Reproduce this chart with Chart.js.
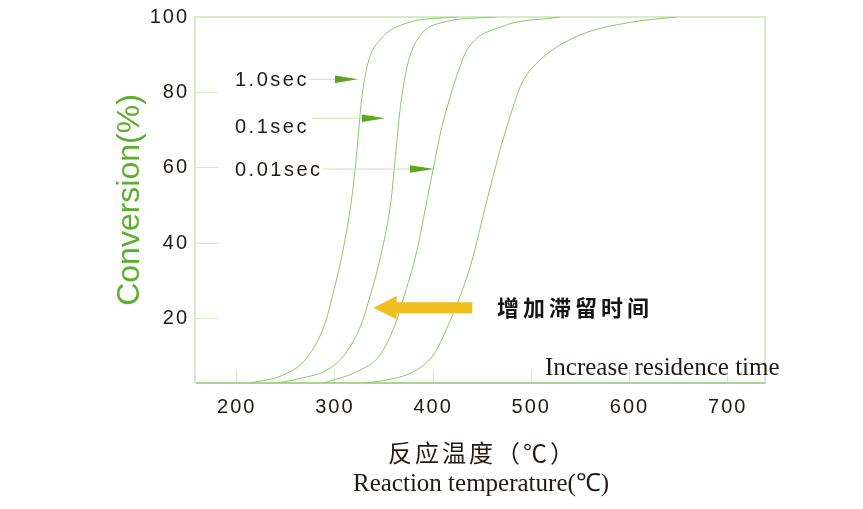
<!DOCTYPE html>
<html>
<head>
<meta charset="utf-8">
<script src="https://cdn.jsdelivr.net/npm/chart.js@4/dist/chart.umd.min.js"></script>
<style>
html,body{margin:0;padding:0;background:#fff;}
#wrap{width:863px;height:509px;}
</style>
</head>
<body>
<div id="wrap"><canvas id="c" width="863" height="509"></canvas></div>
<script>
// ---- data ----
const xTicks = [200, 300, 400, 500, 600, 700];
const yTicks = [20, 40, 60, 80, 100];
const seriesNames = ['1.0sec', '0.1sec', '0.01sec', 'longer'];
const labelTexts = ['1.0sec', '0.1sec', '0.01sec'];

const temp1 = [213.5, 247.1, 271.3, 289.4, 296.5, 308.2, 316.9, 322.5, 327.1, 333.7, 345.9, 373.4, 424.3];
const conv1 = [3.0, 5.1, 9.6, 18.4, 25.0, 38.2, 51.5, 64.7, 78.0, 87.8, 93.9, 98.4, 100];

const temp2 = [240.7, 264.5, 295.0, 312.0, 326.6, 334.7, 348.0, 357.2, 362.2, 366.3, 373.4, 383.6, 407.0, 465.1];
const conv2 = [3.0, 4.2, 6.9, 11.3, 18.4, 25.0, 38.2, 51.5, 64.7, 75.4, 86.7, 93.9, 98.4, 100];

const temp3 = [288.2, 322.2, 345.9, 361.2, 369.3, 383.6, 393.8, 400.9, 408.1, 415.2, 423.3, 434.6, 468.1, 529.2];
const conv3 = [3.0, 6.0, 10.4, 18.4, 25.0, 38.2, 51.5, 60.8, 70.0, 76.9, 83.8, 91.3, 97.3, 100];

const temp4 = [328.9, 352.7, 379.8, 400.2, 415.5, 437.6, 454.9, 468.1, 481.4, 490.5, 508.9, 549.6, 603.6, 648.4];
const conv4 = [3.0, 3.8, 6.0, 10.4, 18.4, 33.7, 51.5, 64.7, 76.1, 82.5, 88.6, 95.2, 98.7, 100];

const xMin = 157.5, xMax = 738, yMin = 3, yMax = 100;

const temps = [temp1, temp2, temp3, temp4];
const convs = [conv1, conv2, conv3, conv4];

const datasets = temps.map((t, i) => ({
  label: seriesNames[i],
  data: t.map((x, j) => ({x: x, y: convs[i][j]})),
  showLine: true,
  borderColor: '#8cc96b',
  borderWidth: 1,
  pointRadius: 0,
  pointHoverRadius: 0,
  cubicInterpolationMode: 'monotone',
  fill: false
}));

const TEXT = '#231815';
const PALE = '#d6ebc7';

const decor = {
  id: 'decor',
  beforeDraw(chart) {
    const ctx = chart.ctx;
    ctx.letterSpacing = '0px';
    ctx.save();
    ctx.fillStyle = '#ffffff';
    ctx.fillRect(0, 0, chart.width, chart.height);
    ctx.restore();
  },
  beforeDatasetsDraw(chart) {
    const {ctx, chartArea: a} = chart;
    ctx.save();
    ctx.strokeStyle = PALE;
    ctx.lineWidth = 2;
    ctx.beginPath();
    ctx.moveTo(a.left, a.top);
    ctx.lineTo(a.right, a.top);
    ctx.lineTo(a.right, a.bottom);
    ctx.stroke();
    ctx.restore();
  },
  afterDatasetsDraw(chart) {
    const ctx = chart.ctx;
    ctx.save();
    // residence-time labels with pointer arrows
    const labelY = [80.5, 127.2, 170.2];
    const arrows = [
      {x0: 308, xb: 335, xt: 358, y: 79.3},
      {x0: 312, xb: 362, xt: 385, y: 118.3},
      {x0: 323, xb: 410, xt: 434, y: 169}
    ];
    ctx.font = '20px "Liberation Sans"';
    ctx.letterSpacing = '2.5px';
    ctx.fillStyle = TEXT;
    ctx.textBaseline = 'middle';
    ctx.textAlign = 'left';
    labelTexts.forEach((t, i) => ctx.fillText(t, 235, labelY[i]));
    ctx.letterSpacing = '0px';
    arrows.forEach(a => {
      ctx.strokeStyle = '#c5e2b0';
      ctx.lineWidth = 1;
      ctx.beginPath();
      ctx.moveTo(a.x0, a.y);
      ctx.lineTo(a.xb, a.y);
      ctx.stroke();
      ctx.fillStyle = '#5ba51f';
      ctx.beginPath();
      ctx.moveTo(a.xb, a.y - 3.8);
      ctx.lineTo(a.xt, a.y);
      ctx.lineTo(a.xb, a.y + 3.8);
      ctx.closePath();
      ctx.fill();
    });
    // big yellow arrow
    ctx.fillStyle = '#f0bf1f';
    ctx.beginPath();
    ctx.moveTo(373.3, 307.7);
    ctx.lineTo(396.7, 296);
    ctx.lineTo(396.7, 302.3);
    ctx.lineTo(472.3, 302.3);
    ctx.lineTo(472.3, 313.3);
    ctx.lineTo(396.7, 313.3);
    ctx.lineTo(396.7, 319.3);
    ctx.closePath();
    ctx.fill();
    // Chinese annotation
    ctx.font = 'bold 22px "Noto Sans CJK SC"';
    ctx.letterSpacing = '4px';
    ctx.fillStyle = '#151515';
    ctx.textBaseline = 'middle';
    ctx.fillText('增加滞留时间', 497, 308);
    ctx.letterSpacing = '0px';
    // English annotation
    ctx.font = '25px "Liberation Serif"';
    ctx.fillStyle = TEXT;
    ctx.textBaseline = 'alphabetic';
    ctx.fillText('Increase residence time', 545, 375);
    ctx.restore();
    // tick labels (drawn next, at z=1) get the wide spacing of the original
    ctx.letterSpacing = '2px';
  },
  afterDraw(chart) {
    const ctx = chart.ctx;
    ctx.letterSpacing = '0px';
    ctx.save();
    ctx.fillStyle = TEXT;
    ctx.textAlign = 'left';
    ctx.font = '24px "Noto Sans CJK SC"';
    ctx.letterSpacing = '3px';
    ctx.textBaseline = 'middle';
    ctx.fillText('反应温度（℃）', 388, 453);
    ctx.letterSpacing = '0px';
    ctx.font = '25px "Liberation Serif"';
    ctx.textBaseline = 'alphabetic';
    ctx.fillText('Reaction temperature(℃)', 353, 491);
    ctx.restore();
  }
};

Chart.defaults.font.family = '"Liberation Sans", Arial, sans-serif';

new Chart(document.getElementById('c'), {
  type: 'scatter',
  data: {datasets: datasets},
  options: {
    responsive: false,
    animation: false,
    devicePixelRatio: 1,
    layout: {padding: {top: 17, right: 98, left: 0, bottom: 0}},
    plugins: {legend: {display: false}, tooltip: {enabled: false}},
    scales: {
      x: {
        type: 'linear',
        min: xMin,
        max: xMax,
        afterBuildTicks: s => { s.ticks = xTicks.map(v => ({value: v})); },
        afterFit: s => { s.height = 126; s.paddingLeft = 0; s.paddingRight = 0; },
        grid: {drawOnChartArea: false, drawTicks: true, tickLength: -13, color: PALE, lineWidth: 1},
        border: {display: true, color: '#a9d58c', width: 2},
        ticks: {z: 1, color: TEXT, font: {size: 20}, padding: 25, maxRotation: 0, autoSkip: false}
      },
      y: {
        type: 'linear',
        min: yMin,
        max: yMax,
        afterBuildTicks: s => { s.ticks = yTicks.map(v => ({value: v})); },
        afterFit: s => { s.width = 195; s.paddingTop = 0; s.paddingBottom = 0; },
        grid: {drawOnChartArea: false, drawTicks: true, tickLength: -23, color: PALE, lineWidth: 1},
        border: {display: true, color: PALE, width: 2},
        ticks: {z: 1, color: TEXT, font: {size: 20}, padding: 29, autoSkip: false},
        title: {
          display: true,
          text: 'Conversion(%)',
          color: '#5cae2f',
          font: {size: 32, family: '"Liberation Sans", Arial, sans-serif'},
          padding: {top: 111, bottom: 0}
        }
      }
    }
  },
  plugins: [decor]
});
</script>
</body>
</html>
